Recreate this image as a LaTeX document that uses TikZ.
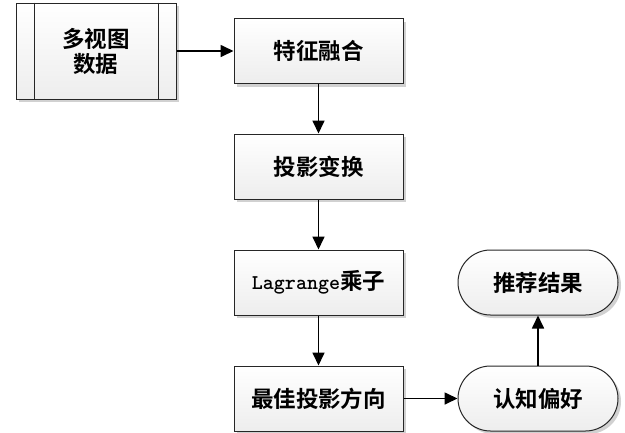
\documentclass[tikz,border=0pt]{standalone}
\usepackage{fontspec}
\setmainfont{Noto Sans CJK SC}[BoldFont={Noto Sans CJK SC Bold}]
\newfontfamily\cjkb{Noto Sans CJK SC Bold}
\usetikzlibrary{arrows.meta,shadows}
\begin{document}
\begin{tikzpicture}[x=1pt,y=-1pt,
  base/.style={draw=black!85,line width=1pt,top color=white,bottom color=black!7,
    drop shadow={shadow xshift=3pt,shadow yshift=-3pt,fill=black!18,opacity=1},
    font=\cjkb\fontsize{22.5}{25}\selectfont,align=center,inner sep=0pt},
  procbox/.style={base,minimum width=169pt,minimum height=65pt},
  databox/.style={base,minimum width=160pt,minimum height=96pt},
  term/.style={base,minimum width=160pt,minimum height=65pt,rounded corners=32.5pt},
  arr/.style={line width=1.7pt,-{Triangle[length=13pt,width=12pt]}}
]
\useasboundingbox (0,0) rectangle (625,432);
\node[databox] (data) at (96,51) {多视图\\数据};
\draw[line width=1pt,black!85] ([xshift=19pt]data.north west) -- ([xshift=19pt]data.south west)
  ([xshift=-18pt]data.north east) -- ([xshift=-18pt]data.south east);
\node[procbox] (fuse) at (318.5,51) {特征融合};
\node[procbox] (proj) at (318.5,166.5) {投影变换};
\node[procbox] (lag) at (318.5,282.5) {{\ttfamily\bfseries\fontsize{21}{24}\selectfont Lagrange}乘子};
\node[procbox] (best) at (318.5,398.5) {最佳投影方向};
\node[term] (pref) at (538,398.5) {认知偏好};
\node[term] (rec) at (538,282.5) {推荐结果};
\draw[arr] (data) -- (fuse);
\draw[arr] (fuse) -- (proj);
\draw[arr] (proj) -- (lag);
\draw[arr] (lag) -- (best);
\draw[arr] (best) -- (pref);
\draw[arr] (pref) -- (rec);
\end{tikzpicture}
\end{document}
